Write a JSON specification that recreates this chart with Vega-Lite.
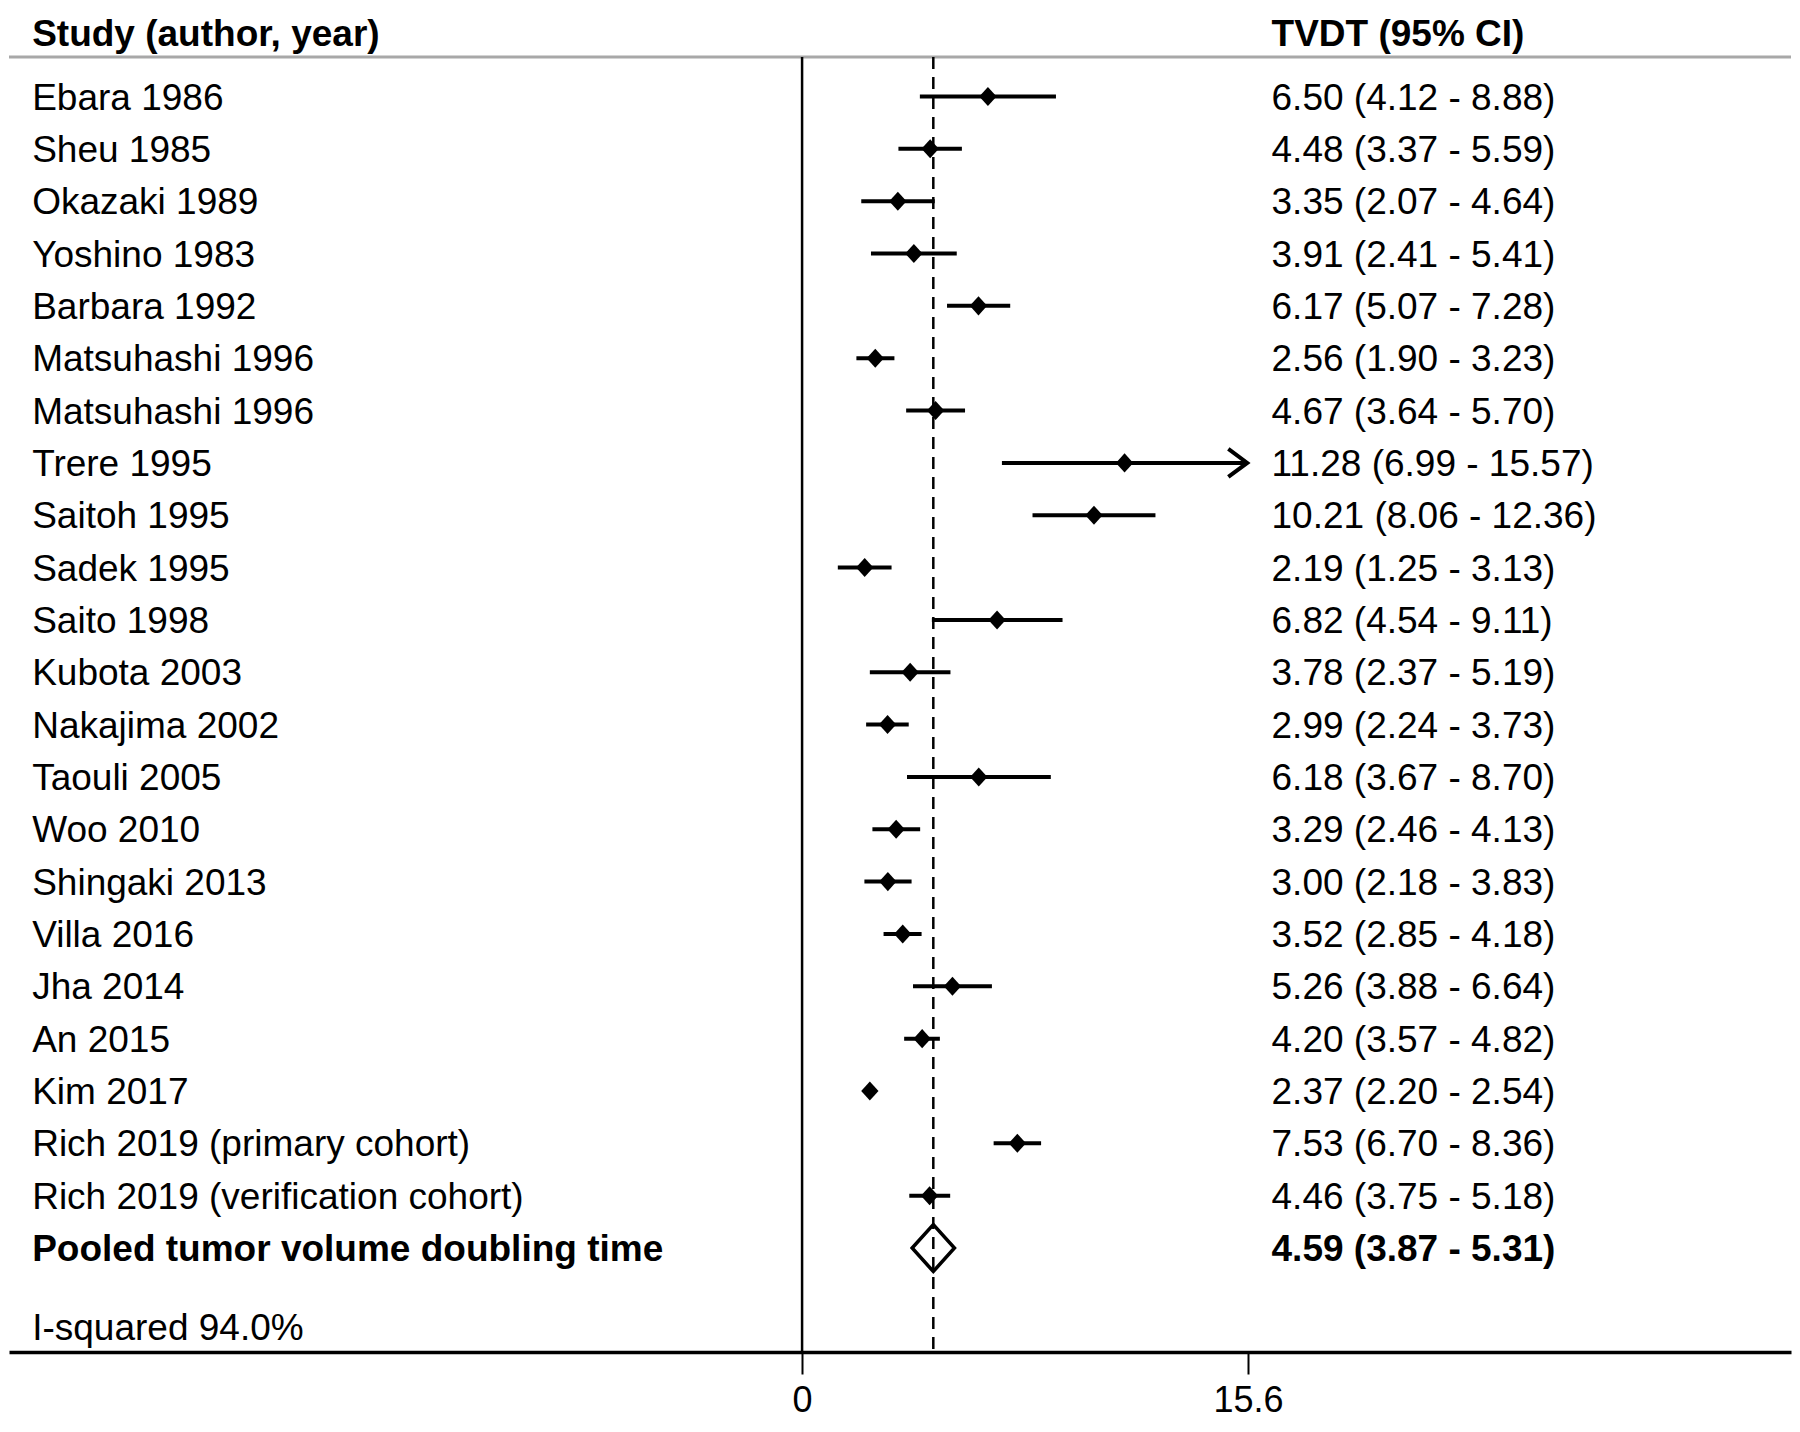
{
  "$schema": "https://vega.github.io/schema/vega-lite/v6.json",
  "autosize": "none",
  "width": 1782,
  "height": 1295,
  "padding": {"left": 9, "top": 57, "right": 9, "bottom": 80},
  "background": "white",
  "config": {"view": {"stroke": null}, "font": "Liberation Sans"},
  "datasets": {
    "studies": [
      {"row": 1, "study": "Ebara 1986", "est": 6.50, "lo": 4.12, "hi": 8.88, "label": "6.50 (4.12 - 8.88)"},
      {"row": 2, "study": "Sheu 1985", "est": 4.48, "lo": 3.37, "hi": 5.59, "label": "4.48 (3.37 - 5.59)"},
      {"row": 3, "study": "Okazaki 1989", "est": 3.35, "lo": 2.07, "hi": 4.64, "label": "3.35 (2.07 - 4.64)"},
      {"row": 4, "study": "Yoshino 1983", "est": 3.91, "lo": 2.41, "hi": 5.41, "label": "3.91 (2.41 - 5.41)"},
      {"row": 5, "study": "Barbara 1992", "est": 6.17, "lo": 5.07, "hi": 7.28, "label": "6.17 (5.07 - 7.28)"},
      {"row": 6, "study": "Matsuhashi 1996", "est": 2.56, "lo": 1.90, "hi": 3.23, "label": "2.56 (1.90 - 3.23)"},
      {"row": 7, "study": "Matsuhashi 1996", "est": 4.67, "lo": 3.64, "hi": 5.70, "label": "4.67 (3.64 - 5.70)"},
      {"row": 8, "study": "Trere 1995", "est": 11.28, "lo": 6.99, "hi": 15.57, "label": "11.28 (6.99 - 15.57)"},
      {"row": 9, "study": "Saitoh 1995", "est": 10.21, "lo": 8.06, "hi": 12.36, "label": "10.21 (8.06 - 12.36)"},
      {"row": 10, "study": "Sadek 1995", "est": 2.19, "lo": 1.25, "hi": 3.13, "label": "2.19 (1.25 - 3.13)"},
      {"row": 11, "study": "Saito 1998", "est": 6.82, "lo": 4.54, "hi": 9.11, "label": "6.82 (4.54 - 9.11)"},
      {"row": 12, "study": "Kubota 2003", "est": 3.78, "lo": 2.37, "hi": 5.19, "label": "3.78 (2.37 - 5.19)"},
      {"row": 13, "study": "Nakajima 2002", "est": 2.99, "lo": 2.24, "hi": 3.73, "label": "2.99 (2.24 - 3.73)"},
      {"row": 14, "study": "Taouli 2005", "est": 6.18, "lo": 3.67, "hi": 8.70, "label": "6.18 (3.67 - 8.70)"},
      {"row": 15, "study": "Woo 2010", "est": 3.29, "lo": 2.46, "hi": 4.13, "label": "3.29 (2.46 - 4.13)"},
      {"row": 16, "study": "Shingaki 2013", "est": 3.00, "lo": 2.18, "hi": 3.83, "label": "3.00 (2.18 - 3.83)"},
      {"row": 17, "study": "Villa 2016", "est": 3.52, "lo": 2.85, "hi": 4.18, "label": "3.52 (2.85 - 4.18)"},
      {"row": 18, "study": "Jha 2014", "est": 5.26, "lo": 3.88, "hi": 6.64, "label": "5.26 (3.88 - 6.64)"},
      {"row": 19, "study": "An 2015", "est": 4.20, "lo": 3.57, "hi": 4.82, "label": "4.20 (3.57 - 4.82)"},
      {"row": 20, "study": "Kim 2017", "est": 2.37, "lo": 2.20, "hi": 2.54, "label": "2.37 (2.20 - 2.54)"},
      {"row": 21, "study": "Rich 2019 (primary cohort)", "est": 7.53, "lo": 6.70, "hi": 8.36, "label": "7.53 (6.70 - 8.36)"},
      {"row": 22, "study": "Rich 2019 (verification cohort)", "est": 4.46, "lo": 3.75, "hi": 5.18, "label": "4.46 (3.75 - 5.18)"}
    ],
    "pooled": [
      {"row": 23, "study": "Pooled tumor volume doubling time", "est": 4.59, "lo": 3.87, "hi": 5.31, "label": "4.59 (3.87 - 5.31)"}
    ],
    "notes": [
      {"row": 24.5, "text": "I-squared 94.0%"}
    ]
  },
  "layer": [
    {
      "data": {"values": [{}]},
      "mark": {"type": "rule", "color": "#a8a8a8", "strokeWidth": 3},
      "encoding": {"y": {"datum": 0.2453, "type": "quantitative", "scale": {"domain": [0.2453, 24.987], "reverse": true, "nice": false, "zero": false}, "axis": null}}
    },
    {
      "data": {"values": [{}]},
      "mark": {"type": "rule", "color": "black", "strokeWidth": 2.5},
      "encoding": {"x": {"datum": 0, "type": "quantitative"}}
    },
    {
      "data": {"name": "pooled"},
      "mark": {"type": "rule", "color": "black", "strokeWidth": 2.5, "strokeDash": [12, 8]},
      "encoding": {"x": {"field": "est", "type": "quantitative"}}
    },
    {
      "data": {"name": "studies"},
      "mark": {"type": "rule", "color": "black", "strokeWidth": 4},
      "encoding": {
        "x": {"field": "lo", "type": "quantitative",
              "scale": {"domain": [-27.74, 34.59], "nice": false, "zero": false},
              "axis": {"values": [0, 15.6], "format": ".3~g", "title": null, "grid": false,
                       "domainColor": "black", "domainWidth": 3.5, "tickColor": "black", "tickWidth": 2,
                       "tickSize": 22, "labelFontSize": 36, "labelFont": "Liberation Sans",
                       "labelColor": "black", "labelPadding": 9, "labelFlush": false}},
        "x2": {"field": "hi"},
        "y": {"field": "row", "type": "quantitative"}
      }
    },
    {
      "data": {"name": "studies"},
      "mark": {"type": "point", "shape": "M-1,0L0,-1.1L1,0L0,1.1Z", "filled": true, "color": "black", "opacity": 1, "size": 300},
      "encoding": {
        "x": {"field": "est", "type": "quantitative"},
        "y": {"field": "row", "type": "quantitative"}
      }
    },
    {
      "data": {"name": "studies"},
      "transform": [{"filter": "datum.hi > 15"}],
      "mark": {"type": "point", "shape": "M-1.35,-1L0,0L-1.35,1", "filled": false, "color": "black", "opacity": 1, "strokeWidth": 4, "size": 784, "strokeJoin": "miter"},
      "encoding": {
        "x": {"field": "hi", "type": "quantitative"},
        "y": {"field": "row", "type": "quantitative"}
      }
    },
    {
      "data": {"name": "pooled"},
      "mark": {"type": "point", "shape": "M-0.9,0L0,-1L0.9,0L0,1Z", "filled": false, "color": "black", "opacity": 1, "strokeWidth": 3.5, "size": 2209, "strokeJoin": "miter"},
      "encoding": {
        "x": {"field": "est", "type": "quantitative"},
        "y": {"field": "row", "type": "quantitative"}
      }
    },
    {
      "data": {"name": "studies"},
      "mark": {"type": "text", "align": "left", "baseline": "middle", "dy": 2, "fontSize": 37, "font": "Liberation Sans", "color": "black"},
      "encoding": {
        "x": {"datum": -26.93, "type": "quantitative"},
        "y": {"field": "row", "type": "quantitative"},
        "text": {"field": "study"}
      }
    },
    {
      "data": {"name": "studies"},
      "mark": {"type": "text", "align": "left", "baseline": "middle", "dy": 2, "fontSize": 37, "font": "Liberation Sans", "color": "black"},
      "encoding": {
        "x": {"datum": 16.42, "type": "quantitative"},
        "y": {"field": "row", "type": "quantitative"},
        "text": {"field": "label"}
      }
    },
    {
      "data": {"name": "pooled"},
      "mark": {"type": "text", "align": "left", "baseline": "middle", "dy": 2, "fontSize": 37, "font": "Liberation Sans", "fontWeight": "bold", "color": "black"},
      "encoding": {
        "x": {"datum": -26.93, "type": "quantitative"},
        "y": {"field": "row", "type": "quantitative"},
        "text": {"field": "study"}
      }
    },
    {
      "data": {"name": "pooled"},
      "mark": {"type": "text", "align": "left", "baseline": "middle", "dy": 2, "fontSize": 37, "font": "Liberation Sans", "fontWeight": "bold", "color": "black"},
      "encoding": {
        "x": {"datum": 16.42, "type": "quantitative"},
        "y": {"field": "row", "type": "quantitative"},
        "text": {"field": "label"}
      }
    },
    {
      "data": {"name": "notes"},
      "mark": {"type": "text", "align": "left", "baseline": "middle", "dy": 2, "fontSize": 37, "font": "Liberation Sans", "color": "black"},
      "encoding": {
        "x": {"datum": -26.93, "type": "quantitative"},
        "y": {"field": "row", "type": "quantitative"},
        "text": {"field": "text"}
      }
    },
    {
      "data": {"values": [{}]},
      "mark": {"type": "text", "align": "left", "baseline": "middle", "dy": 2, "fontSize": 37, "font": "Liberation Sans", "fontWeight": "bold", "color": "black"},
      "encoding": {
        "x": {"datum": -26.93, "type": "quantitative"},
        "y": {"datum": -0.213, "type": "quantitative"},
        "text": {"value": "Study (author, year)"}
      }
    },
    {
      "data": {"values": [{}]},
      "mark": {"type": "text", "align": "left", "baseline": "middle", "dy": 2, "fontSize": 37, "font": "Liberation Sans", "fontWeight": "bold", "color": "black"},
      "encoding": {
        "x": {"datum": 16.42, "type": "quantitative"},
        "y": {"datum": -0.213, "type": "quantitative"},
        "text": {"value": "TVDT (95% CI)"}
      }
    }
  ]
}
